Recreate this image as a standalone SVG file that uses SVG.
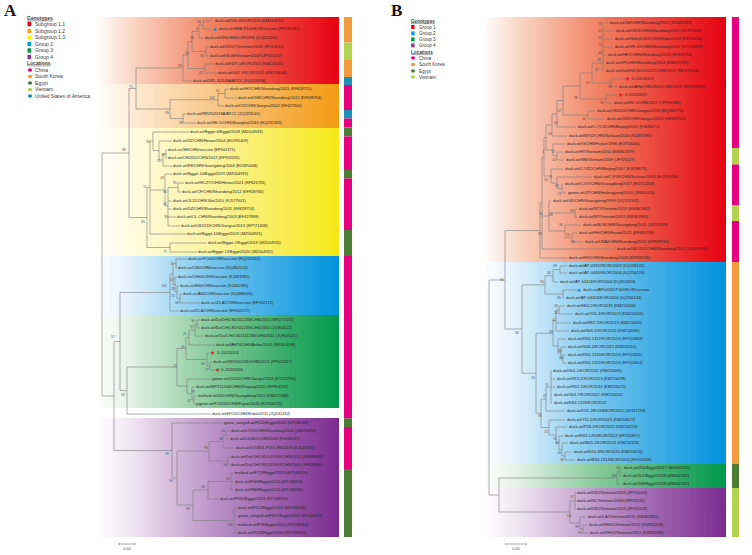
<svg xmlns="http://www.w3.org/2000/svg" width="752" height="555" viewBox="0 0 752 555">
<style>
.lf{font-family:"Liberation Sans",Arial,sans-serif;font-size:4px;fill:#262626}
.bs{font-family:"Liberation Sans",Arial,sans-serif;font-size:3px;fill:#4a4a4a;text-anchor:middle}
.lg{font-family:"Liberation Sans",Arial,sans-serif;font-size:5px;fill:#3a3a3a}
.lgb{font-family:"Liberation Sans",Arial,sans-serif;font-size:4.6px;fill:#3a3a3a}
.lh{font-weight:bold;text-decoration:underline}
.br{fill:none;stroke:#7a7a7a;stroke-width:0.6}
.pl{font-family:"Liberation Serif","Times New Roman",serif;font-size:17px;font-weight:bold;fill:#111}
.sc{fill:none;stroke:#555;stroke-width:0.5}
.cn{fill:#e4007f}.kr{fill:#f39a3c}.eg{fill:#4d7c34}.vn{fill:#b3d34f}.us{fill:#1e8fb5}
</style>
<defs>
<linearGradient id="gR"><stop offset="0" stop-color="#fff"/><stop offset="0.15" stop-color="#f9d6c4"/><stop offset="0.5" stop-color="#f07c5c"/><stop offset="1" stop-color="#e60012"/></linearGradient>
<linearGradient id="gO"><stop offset="0" stop-color="#fff"/><stop offset="0.15" stop-color="#fdebd5"/><stop offset="0.5" stop-color="#f8c584"/><stop offset="1" stop-color="#f39c14"/></linearGradient>
<linearGradient id="gY"><stop offset="0" stop-color="#fff"/><stop offset="0.15" stop-color="#fffbe0"/><stop offset="0.5" stop-color="#fbf39a"/><stop offset="1" stop-color="#f5e816"/></linearGradient>
<linearGradient id="gB"><stop offset="0" stop-color="#fff"/><stop offset="0.15" stop-color="#dff0fb"/><stop offset="0.5" stop-color="#70c2ec"/><stop offset="1" stop-color="#0092dd"/></linearGradient>
<linearGradient id="gG"><stop offset="0" stop-color="#fff"/><stop offset="0.15" stop-color="#e2f1e4"/><stop offset="0.5" stop-color="#80c794"/><stop offset="1" stop-color="#00984a"/></linearGradient>
<linearGradient id="gP"><stop offset="0" stop-color="#fff"/><stop offset="0.15" stop-color="#efe4f1"/><stop offset="0.5" stop-color="#b98fc6"/><stop offset="1" stop-color="#7b2c8f"/></linearGradient>
<path id="tri" d="M0,-1.8L2,1.6L-2,1.6Z" fill="#1e8fd6"/>
<path id="star" d="M0,-2.3L0.56,-0.77L2.19,-0.71L0.9,0.29L1.35,1.86L0,0.95L-1.35,1.86L-0.9,0.29L-2.19,-0.71L-0.56,-0.77Z" fill="#e8101c"/>
</defs>
<rect width="752" height="555" fill="#fff"/>

<g id="bands-a">
<rect x="96" y="17" width="243" height="67" fill="url(#gR)"/>
<rect x="96" y="84" width="243" height="44" fill="url(#gO)"/>
<rect x="96" y="128" width="243" height="128" fill="url(#gY)"/>
<rect x="96" y="256" width="243" height="59" fill="url(#gB)"/>
<rect x="96" y="315" width="243" height="93" fill="url(#gG)"/>
<rect x="96" y="418" width="243" height="119" fill="url(#gP)"/>
</g>
<g id="bands-b">
<rect x="483" y="17" width="243" height="245" fill="url(#gR)"/>
<rect x="483" y="262" width="243" height="202" fill="url(#gB)"/>
<rect x="483" y="464" width="243" height="24" fill="url(#gG)"/>
<rect x="483" y="488" width="243" height="49" fill="url(#gP)"/>
</g>

<g id="locbar-a">
<rect class="kr" x="344" y="17" width="8" height="25.5"/>
<rect class="vn" x="344" y="42.5" width="8" height="17.5"/>
<rect class="kr" x="344" y="60" width="8" height="17"/>
<rect class="us" x="344" y="77" width="8" height="8"/>
<rect class="cn" x="344" y="85" width="8" height="25"/>
<rect class="us" x="344" y="110" width="8" height="8.5"/>
<rect class="cn" x="344" y="118.5" width="8" height="9"/>
<rect class="eg" x="344" y="127.5" width="8" height="9"/>
<rect class="cn" x="344" y="136.5" width="8" height="33.5"/>
<rect class="eg" x="344" y="170" width="8" height="8.5"/>
<rect class="cn" x="344" y="178.5" width="8" height="51.5"/>
<rect class="eg" x="344" y="230" width="8" height="26"/>
<rect class="cn" x="344" y="256" width="8" height="162.5"/>
<rect class="eg" x="344" y="418.5" width="8" height="8.5"/>
<rect class="cn" x="344" y="427" width="8" height="42"/>
<rect class="eg" x="344" y="469" width="8" height="68"/>
</g>
<g id="locbar-b">
<rect class="cn" x="732" y="17" width="7" height="131"/>
<rect class="vn" x="732" y="148" width="7" height="16.5"/>
<rect class="cn" x="732" y="164.5" width="7" height="40.5"/>
<rect class="vn" x="732" y="205" width="7" height="16"/>
<rect class="cn" x="732" y="221" width="7" height="41"/>
<rect class="kr" x="732" y="262" width="7" height="202"/>
<rect class="eg" x="732" y="464" width="7" height="24"/>
<rect class="vn" x="732" y="488" width="7" height="49"/>
</g>

<g id="title-a"><text class="pl" x="4" y="16">A</text></g>
<g id="title-b"><text class="pl" x="391" y="16">B</text></g>

<g id="legend-a">
<text class="lg lh" x="27" y="19.7">Genotypes</text>
<rect x="27.5" y="21.8" width="3.6" height="4.4" fill="#e60012"/><text class="lg" x="35" y="25.8">Subgroup 1.1</text>
<rect x="27.5" y="28.8" width="3.6" height="4.4" fill="#f39c14"/><text class="lg" x="35" y="32.8">Subgroup 1.2</text>
<rect x="27.5" y="35.3" width="3.6" height="4.4" fill="#fff100"/><text class="lg" x="35" y="39.3">Subgroup 1.3</text>
<rect x="27.5" y="41.8" width="3.6" height="4.4" fill="#00a0e9"/><text class="lg" x="35" y="45.8">Group 2</text>
<rect x="27.5" y="48.3" width="3.6" height="4.4" fill="#009944"/><text class="lg" x="35" y="52.3">Group 3</text>
<rect x="27.5" y="54.8" width="3.6" height="4.4" fill="#7d3a96"/><text class="lg" x="35" y="58.8">Group 4</text>
<text class="lg lh" x="27" y="64.7">Locations</text>
<ellipse class="cn" cx="30" cy="70" rx="2.2" ry="1.8"/><text class="lg" x="35" y="71.8">China</text>
<ellipse class="kr" cx="30" cy="76.5" rx="2.2" ry="1.8"/><text class="lg" x="35" y="78.3">South Korea</text>
<ellipse class="eg" cx="30" cy="83" rx="2.2" ry="1.8"/><text class="lg" x="35" y="84.8">Egypt</text>
<ellipse class="vn" cx="30" cy="89.5" rx="2.2" ry="1.8"/><text class="lg" x="35" y="91.3">Vietnam</text>
<ellipse class="us" cx="30" cy="96" rx="2.2" ry="1.8"/><text class="lg" x="35" y="97.8">United States of America</text>
</g>
<g id="legend-b">
<text class="lgb lh" x="411" y="22.6">Genotypes</text>
<rect x="411.2" y="25" width="3.4" height="4" fill="#e60012"/><text class="lgb" x="419" y="28.6">Group 1</text>
<rect x="411.2" y="31.4" width="3.4" height="4" fill="#00a0e9"/><text class="lgb" x="419" y="35.1">Group 2</text>
<rect x="411.2" y="37.4" width="3.4" height="4" fill="#009944"/><text class="lgb" x="419" y="41.1">Group 3</text>
<rect x="411.2" y="43.4" width="3.4" height="4" fill="#7d3a96"/><text class="lgb" x="419" y="47.1">Group 4</text>
<text class="lgb lh" x="411" y="53.6">Locations</text>
<ellipse class="cn" cx="413" cy="58" rx="2" ry="1.7"/><text class="lgb" x="419" y="59.6">China</text>
<ellipse class="kr" cx="413" cy="64.5" rx="2" ry="1.7"/><text class="lgb" x="419" y="66.1">South Korea</text>
<ellipse class="eg" cx="413" cy="71" rx="2" ry="1.7"/><text class="lgb" x="419" y="72.6">Egypt</text>
<ellipse class="vn" cx="413" cy="77" rx="2" ry="1.7"/><text class="lgb" x="419" y="78.6">Vietnam</text>
</g>

<g id="connectors">
<path class="br" d="M203,21V29M203,21H213M203,29H212M199,25V38M199,25H203M199,38H204M206,47V56M206,47H209M206,56H209M192,31.5V51.5M192,31.5H199M192,51.5H206M205,64V73M205,64H214M205,73H217M188,41.5V68.5M188,41.5H192M188,68.5H205M183,55V81M183,55H188M183,81H192M225,89V98M225,89H229M225,98H237M218,93.5V106M218,93.5H225M218,106H224M183,114V123M183,114H186M183,123H196M170,99.75V118.5M170,99.75H218M170,118.5H183M136,68V109M136,68H183M136,109H170M129,88.5V217.5M129,88.5H136M129,217.5H147"/>
<path class="br" d="M166,150V158M166,150H167M166,158H167M163,154V166M163,154H166M163,166H172M159,141V160M159,141H172M159,160H163M153,132V150.5M153,132H189M153,150.5H159M178,183V192M178,183H184M178,192H181M168,187.5V226M168,187.5H178M168,201H172M168,209H172M168,217H176M168,226H180M165,174V206M165,174H172M165,206H168M150,141V234M150,141H153M150,190H165M150,234H186M170,243V252M170,243H207M170,252H197M147,187.5V247.5M147,187.5H150M147,247.5H170"/>
<path class="br" d="M176,259V268M176,259H187M176,268H177M180,294V303M180,294H182M180,303H200M177,286V298.5M177,286H179M177,298.5H180M175,277V292M175,277H177M175,292H177M173,263.5V284.5M173,263.5H176M173,284.5H175M170,274V311M170,274H173M170,311H179"/>
<path class="br" d="M197,320V328M197,320H200M197,328H200M195,324V336M195,324H197M195,336H204M189,330V345M189,330H195M189,345H215M210,362V370M210,362H212M210,370H215M207,353V366M207,353H210M207,366H210M186,337.5V359.5M186,337.5H189M186,359.5H207M194,396V404M194,396H197M194,404H195M192,387V400M192,387H195M192,400H194M187,379V393.5M187,379H211M187,393.5H192M177,348.5V386M177,348.5H186M177,386H187"/>
<path class="br" d="M127,367V414M127,367H177M127,414H211M120,292.5V390.5M120,292.5H170M120,390.5H127M114,341.5V450.5M114,341.5H120M114,450.5H172M102,153V396M102,153H129M102,396H114"/>
<path class="br" d="M226,431V439M226,431H230M226,439H229M223,435V448M223,435H226M223,448H235M228,457V465M228,457H230M228,465H230M209,441.5V461M209,441.5H223M209,461H228M231,473V490M231,473H234M231,482H234M231,490H234M208,481.5V499M208,481.5H231M208,499H219M234,508V533M234,508H237M234,516H237M234,525H237M234,533H237M193,490V520.5M193,490H208M193,520.5H234M177,451V505M177,451H209M177,505H193M172,423V478M172,423H223M172,478H177"/>
<path class="br" d="M603,23V71M603,23H608M603,31H614M603,39H613M603,47H613M603,55H606M603,63H604M603,71H604M611,79V87M611,79H625M611,87H617M592,63V83M592,63H603M592,83H611M606,95V103M606,95H618M606,103H612M580,73V99M580,73H592M580,99H606M588,111V119M588,111H595M588,119H605M563,86V115M563,86H580M563,115H588M557,100.5V127M557,100.5H563M557,127H576M552,114V136M552,114H557M552,136H567M557,152V160M557,152H563M557,160H564M553,144V156M553,144H565M553,156H557M546,125V150M546,125H552M546,150H553M562,184V193M562,184H563M562,193H566M557,177V188.5M557,177H592M557,188.5H562M551,169V183M551,169H563M551,183H557M544,137.5V176M544,137.5H546M544,176H551M575,209V217M575,209H577M575,217H577M572,233V242M572,233H577M572,242H583M565,225V237.5M565,225H581M565,237.5H572M549,201V231M549,201H551M549,213H575M549,231H565M542,157V249M542,157H544M542,216H549M542,249H615M540,203V258M540,203H542M540,258H567M505,230.5V329M505,230.5H540M505,329H522M489,280V495M489,280H505M489,495H499"/>
<path class="br" d="M560,266V273M560,266H567M560,273H567M553,269.5V282M553,269.5H560M553,282H558M563,290V298M563,290H577M563,298H564M545,275.75V294M545,275.75H553M545,294H563M559,306V314M559,306H565M559,314H573M556,310V331M556,310H559M556,323H571M556,331H569M563,355V363M563,355H566M563,363H566M561,347V359M561,347H566M561,359H563M558,339V353M558,339H566M558,353H561M553,320.5V346M553,320.5H556M553,346H558M551,371V403M551,371H552M551,379H555M551,387H555M551,395H552M551,403H552M546,387V411M546,387H551M546,411H565M565,452V460M565,452H572M565,460H575M562,443V456M562,443H568M562,456H565M559,436V449.5M559,436H563M559,449.5H562M556,427V443M556,427H567M556,443H559M549,420V435M549,420H565M549,435H556M541,399V427.5M541,399H546M541,427.5H549M536,333.25V413.25M536,333.25H553M536,413.25H541M522,284.9V373.25M522,284.9H545M522,373.25H536"/>
<path class="br" d="M620,468V476M620,468H622M620,476H621M617,472V484M617,472H620M617,484H621M499,478V512M499,478H617M499,512H570M575,493V509M575,493H576M575,501H576M575,509H576M583,525V533M583,525H587M583,533H588M580,517V529M580,517H586M580,529H583M570,501V523M570,501H575M570,523H580"/>
</g>

<g id="bootstrap-a">
<text class="bs" x="199" y="23">56</text><text class="bs" x="197" y="30">8</text><text class="bs" x="192" y="39">18</text><text class="bs" x="187" y="54">53</text><text class="bs" x="202" y="57">84</text><text class="bs" x="180" y="67">99</text><text class="bs" x="201" y="74">41</text><text class="bs" x="131" y="88">71</text>
<text class="bs" x="218" y="92">67</text><text class="bs" x="212" y="99">100</text><text class="bs" x="167" y="114">99</text><text class="bs" x="181" y="124">99</text>
<text class="bs" x="148" y="143">34</text><text class="bs" x="163" y="156">58</text><text class="bs" x="159" y="162">51</text><text class="bs" x="162" y="179">43</text><text class="bs" x="175" y="184">85</text><text class="bs" x="145" y="188">15</text><text class="bs" x="165" y="193">66</text><text class="bs" x="165" y="205">40</text><text class="bs" x="166" y="218">39</text><text class="bs" x="143" y="223">69</text><text class="bs" x="165" y="253">72</text><text class="bs" x="124" y="151">86</text>
<text class="bs" x="172" y="265">71</text><text class="bs" x="172" y="281">57</text><text class="bs" x="164" y="287">100</text><text class="bs" x="173" y="290">18</text><text class="bs" x="173" y="297">74</text><text class="bs" x="177" y="304">68</text>
<text class="bs" x="193" y="322">96</text><text class="bs" x="192" y="328">97</text><text class="bs" x="185" y="335">25</text><text class="bs" x="183" y="348">41</text><text class="bs" x="203" y="365">99</text><text class="bs" x="207" y="371">77</text><text class="bs" x="175" y="367">55</text><text class="bs" x="193" y="393">79</text><text class="bs" x="189" y="402">62</text><text class="bs" x="113" y="338">57</text><text class="bs" x="123" y="396">58</text>
<text class="bs" x="167" y="455">99</text><text class="bs" x="223" y="432">70</text><text class="bs" x="221" y="440">99</text><text class="bs" x="206" y="449">98</text><text class="bs" x="225" y="466">99</text><text class="bs" x="228" y="480">99</text><text class="bs" x="203" y="488">94</text><text class="bs" x="171" y="482">93</text><text class="bs" x="188" y="510">99</text><text class="bs" x="230" y="526">100</text>
</g>
<g id="bootstrap-b">
<text class="bs" x="600" y="25">56</text><text class="bs" x="600" y="32">42</text><text class="bs" x="600" y="39">52</text><text class="bs" x="600" y="46">13</text><text class="bs" x="600" y="54">46</text><text class="bs" x="599" y="61">38</text><text class="bs" x="597" y="71">67</text><text class="bs" x="610" y="88">94</text><text class="bs" x="588" y="84">85</text><text class="bs" x="602" y="104">96</text><text class="bs" x="576" y="99">98</text><text class="bs" x="584" y="120">94</text><text class="bs" x="559" y="112">57</text><text class="bs" x="556" y="124">92</text><text class="bs" x="550" y="135">29</text><text class="bs" x="543" y="153">4</text><text class="bs" x="553" y="153">17</text><text class="bs" x="554" y="161">44</text><text class="bs" x="546" y="181">53</text><text class="bs" x="551" y="178">8</text><text class="bs" x="557" y="187">92</text><text class="bs" x="559" y="195">73</text><text class="bs" x="541" y="215">65</text><text class="bs" x="551" y="216">68</text><text class="bs" x="572" y="212">99</text><text class="bs" x="561" y="226">96</text><text class="bs" x="568" y="236">50</text><text class="bs" x="573" y="243">96</text><text class="bs" x="540" y="235">99</text>
<text class="bs" x="555" y="267">99</text><text class="bs" x="549" y="274">84</text><text class="bs" x="542" y="283">95</text><text class="bs" x="559" y="299">99</text><text class="bs" x="556" y="307">29</text><text class="bs" x="556" y="314">24</text><text class="bs" x="554" y="321">42</text><text class="bs" x="551" y="333">99</text><text class="bs" x="560" y="352">85</text><text class="bs" x="561" y="359">68</text><text class="bs" x="547" y="386">91</text><text class="bs" x="545" y="397">67</text><text class="bs" x="533" y="379">93</text><text class="bs" x="540" y="417">90</text><text class="bs" x="546" y="433">54</text><text class="bs" x="555" y="440">55</text><text class="bs" x="557" y="444">44</text><text class="bs" x="559" y="454">43</text><text class="bs" x="562" y="461">96</text>
<text class="bs" x="502" y="281">90</text><text class="bs" x="517" y="334">98</text><text class="bs" x="618" y="469">99</text><text class="bs" x="614" y="477">100</text>
<text class="bs" x="572" y="498">67</text><text class="bs" x="569" y="517">100</text><text class="bs" x="577" y="528">99</text><text class="bs" x="580" y="534">99</text>
</g>

<g id="leaves-a">
<g id="a1"><text class="lf" x="215" y="22.4">duck-wt/D10-4/KOR/2013 (KM216021)</text></g>
<g id="a2"><use href="#tri" x="215" y="29"/><text class="lf" x="219" y="30.4">duck-vs/HSB-P100/KOR/vaccine (PP592387)</text></g>
<g id="a3"><text class="lf" x="205" y="39.4">duck-wt/DHV-HS/KOR/1996 (DQ812094)</text></g>
<g id="a4"><text class="lf" x="210" y="48.4">duck-wt/VXX/T/Vietnam/2008 (JF914046)</text></g>
<g id="a5"><text class="lf" x="210" y="57.4">duck-wt/GL08/Vietnam/2008 (JF920132)</text></g>
<g id="a6"><text class="lf" x="215" y="65.4">duck-wt/G27-1/KOR/2013 (KM216041)</text></g>
<g id="a7"><text class="lf" x="218" y="74.4">duck-wt/G27-4/KOR/2013 (KM216044)</text></g>
<g id="a8"><text class="lf" x="193" y="82.4">duck-wt/DRL-62/USA/ATCC (DQ219096)</text></g>
<g id="a9"><text class="lf" x="230" y="90.4">duck-wt/HY/CHN/Shandong/2011 (KF828755)</text></g>
<g id="a10"><text class="lf" x="238" y="99.4">duck-wt/LN8/CHN/Shandong/2012 (KF828764)</text></g>
<g id="a11"><text class="lf" x="225" y="107.4">duck-wt/YZ/CHN/Jiangsu/2002 (EF427900)</text></g>
<g id="a12"><text class="lf" x="187" y="115.4">duck-wt/R85952/USA/ATCC (DQ226541)</text></g>
<g id="a13"><text class="lf" x="197" y="124.4">duck-wt/SH-1/CHN/Shanghai/2010 (HQ232305)</text></g>
<g id="a14"><text class="lf" x="190" y="133.4">duck-wt/Egypt-4/Egypt/2018 (MZ004923)</text></g>
<g id="a15"><text class="lf" x="173" y="142.4">duck-wt/ZZ/CHN/Henan/2004 (EU395409)</text></g>
<g id="a16"><text class="lf" x="168" y="151.4">duck-vs/SH/CHN/vaccine (EF502171)</text></g>
<g id="a17"><text class="lf" x="168" y="159.4">duck-wt/CH2012/CHN/2012 (KF953535)</text></g>
<g id="a18"><text class="lf" x="173" y="167.4">duck-wt/FS/CHN/Guangdong/2004 (EU395408)</text></g>
<g id="a19"><text class="lf" x="173" y="175.4">duck-wt/Egypt-14/Egypt/2019 (MZ004919)</text></g>
<g id="a20"><text class="lf" x="185" y="184.4">duck-wt/HCZY/CHN/Henan/2021 (KF826781)</text></g>
<g id="a21"><text class="lf" x="182" y="193.4">duck-wt/CF/CHN/Shandong/2012 (KF828760)</text></g>
<g id="a22"><text class="lf" x="173" y="202.4">duck-wt/JL11/CHN/Jilin/2010 (KJ577601)</text></g>
<g id="a23"><text class="lf" x="173" y="210.4">duck-wt/DZ/CHN/Shandong/2011 (KF828754)</text></g>
<g id="a24"><text class="lf" x="177" y="218.4">duck-wt/CL-CHN/Shandong/2003 (EF427898)</text></g>
<g id="a25"><text class="lf" x="181" y="227.4">duck-wt/US2013/CHN/Jiangsu/2013 (KP721458)</text></g>
<g id="a26"><text class="lf" x="187" y="235.4">duck-wt/Egypt-10/Egypt/2019 (MZ004921)</text></g>
<g id="a27"><text class="lf" x="208" y="244.4">duck-wt/Egypt-2/Egypt/2019 (MZ004920)</text></g>
<g id="a28"><text class="lf" x="198" y="253.4">duck-wt/Egypt-13/Egypt/2020 (MZ004922)</text></g>
<g id="a29"><text class="lf" x="188" y="260.4">duck-vs/FC64/CHN/vaccine (HQ232302)</text></g>
<g id="a30"><text class="lf" x="178" y="269.4">duck-vs/C80/CHN/vaccine (DQ864514)</text></g>
<g id="a31"><text class="lf" x="178" y="278.4">duck-vs/CH60/CHN/vaccine (KJ461981)</text></g>
<g id="a32"><text class="lf" x="180" y="287.4">duck-vs/E60/CHN/vaccine (KJ461985)</text></g>
<g id="a33"><text class="lf" x="183" y="295.4">duck-vs/A66/CHN/vaccine (DQ886445)</text></g>
<g id="a34"><text class="lf" x="201" y="304.4">duck-vs/ZJ-A2/CHN/vaccine (EF502172)</text></g>
<g id="a35"><text class="lf" x="180" y="312.4">duck-vs/ZJ-A/CHN/vaccine (EF442072)</text></g>
<g id="a36"><text class="lf" x="201" y="321.4">duck-wt/Du/DH/LSD/111238/CHN/2011 (MK371521)</text></g>
<g id="a37"><text class="lf" x="201" y="329.4">duck-wt/Du/CH/LSD/111239/CHN/2011 (JQ804522)</text></g>
<g id="a38"><text class="lf" x="205" y="337.4">duck-wt/Du/CH/LGD/111238/CHN/2011 (JQ804521)</text></g>
<g id="a39"><text class="lf" x="216" y="346.4">duck-wt/AHT6/CHN/Anhui/2019 (MK800098)</text></g>
<g id="a40"><use href="#star" x="212.5" y="353"/><text class="lf" x="217" y="354.4">D-20220155</text></g>
<g id="a41"><text class="lf" x="213" y="363.4">duck-wt/SRXX01/SD/CHN/2021 (PP012257)</text></g>
<g id="a42"><use href="#star" x="217.5" y="370"/><text class="lf" x="221" y="371.4">D-20220905</text></g>
<g id="a43"><text class="lf" x="212" y="380.4">goose-wt/J1405/CHN/Jiangxi/2014 (KT072750)</text></g>
<g id="a44"><text class="lf" x="196" y="388.4">duck-wt/MPZJ1206/CHN/Zhejiang/2011 (KF804502)</text></g>
<g id="a45"><text class="lf" x="198" y="397.4">mallard-wt/GD/CHN/Guangdong/2012 (KM017068)</text></g>
<g id="a46"><text class="lf" x="196" y="405.4">pigeon-wt/FJ1220/CHN/Fujian/2012 (KC904272)</text></g>
<g id="a47"><text class="lf" x="212" y="415.4">duck-wt/HY02/CHN/Hubei/2011 (JQ031262)</text></g>
<g id="a48"><text class="lf" x="224" y="424.4">green_winged-wt/F215/Egypt/2014 (KP148268)</text></g>
<g id="a49"><text class="lf" x="231" y="432.4">duck-wt/LY01/CHN/Shandong/2011 (JN225459)</text></g>
<g id="a50"><text class="lf" x="230" y="440.4">duck-wt/L10801/CHN/2008 (FJ436047)</text></g>
<g id="a51"><text class="lf" x="236" y="449.4">duck-wt/LY0801-P15/CHN/2013 (KJ524545)</text></g>
<g id="a52"><text class="lf" x="231" y="458.4">duck-wt/Du/CH/LSD/101006/CHN/2010 (JF828982)</text></g>
<g id="a53"><text class="lf" x="231" y="466.4">duck-wt/Du/CH/LSD/101003/CHN/2009 (JF828980)</text></g>
<g id="a54"><text class="lf" x="235" y="474.4">mallard-wt/F729/Egypt/2013 (KP148250)</text></g>
<g id="a55"><text class="lf" x="235" y="483.4">duck-wt/F163/Egypt/2013 (KP148201)</text></g>
<g id="a56"><text class="lf" x="235" y="491.4">duck-wt/F868/Egypt/2013 (KP148260)</text></g>
<g id="a57"><text class="lf" x="220" y="500.4">duck-wt/F355/Egypt/2014 (KP148294)</text></g>
<g id="a58"><text class="lf" x="238" y="509.4">duck-wt/F112/Egypt/2014 (KP148266)</text></g>
<g id="a59"><text class="lf" x="238" y="517.4">green_winged-wt/F829/Egypt/2013 (KP148303)</text></g>
<g id="a60"><text class="lf" x="238" y="526.4">mallard-wt/F18/Egypt/2014 (KP148264)</text></g>
<g id="a61"><text class="lf" x="238" y="534.4">duck-wt/F243/Egypt/2014 (KP148265)</text></g>
</g>

<g id="leaves-b">
<g id="b1"><text class="lf" x="610" y="24.4">duck-wt/JM/CHN/Shandong/2012 (KF828763)</text></g>
<g id="b2"><text class="lf" x="616" y="32.4">duck-wt/LW-8/CHN/Shandong/2012 (KC191666)</text></g>
<g id="b3"><text class="lf" x="615" y="40.4">duck-wt/Hubei1302/CHN/Hubei/2013 (KJ744250)</text></g>
<g id="b4"><text class="lf" x="615" y="48.4">duck-wt/VF-19/CHN/Shandong/2012 (KC191683)</text></g>
<g id="b5"><text class="lf" x="608" y="56.4">duck-wt/HKY/CHN/Shandong/2011 (KF828756)</text></g>
<g id="b6"><text class="lf" x="606" y="64.4">duck-wt/ZP/CHN/Shandong/2014 (KM507028)</text></g>
<g id="b7"><text class="lf" x="606" y="72.4">duck-wt/Du/DH/LSD/120225/CHN/2012 (MK371024)</text></g>
<g id="b8"><use href="#star" x="627.5" y="79"/><text class="lf" x="632" y="80.4">D-20210113</text></g>
<g id="b9"><text class="lf" x="619" y="88.4">duck-wt/AHb/CHN/JS01/CHN/2019 (MK863959)</text></g>
<g id="b10"><use href="#star" x="620.5" y="95"/><text class="lf" x="625" y="96.4">D-20220815</text></g>
<g id="b11"><text class="lf" x="614" y="104.4">duck-wt/HZ-1/CHN/2022 (OP976384)</text></g>
<g id="b12"><text class="lf" x="597" y="112.4">duck-wt/JS2010/CHN/Jiangsu/2010 (HQ584774)</text></g>
<g id="b13"><text class="lf" x="607" y="120.4">duck-wt/JS2/CHN/Jiangsu/2012 (KF828762)</text></g>
<g id="b14"><text class="lf" x="578" y="128.4">duck-wt/C-YCZ/CHN/Beijing/2005 (FJ828672)</text></g>
<g id="b15"><text class="lf" x="569" y="137.4">duck-wt/MY02/CHN/Sichuan/2000 (KJ461985)</text></g>
<g id="b16"><text class="lf" x="567" y="145.4">duck-wt/G/CHN/Fujian/1998 (EU753006)</text></g>
<g id="b18"><text class="lf" x="565" y="153.4">duck-wt/HY/Vietnam/2010 (KM361879)</text></g>
<g id="b19"><text class="lf" x="566" y="161.4">duck-wt/988/Vietnam/2009 (JF925119)</text></g>
<g id="b20"><text class="lf" x="565" y="170.4">duck-wt/C-YZC/CHN/Beijing/2007 (FJ828673)</text></g>
<g id="b21"><text class="lf" x="594" y="178.4">duck-wt/C-FJK/CHN/Sichuan/2009 (KC993430)</text></g>
<g id="b22"><text class="lf" x="565" y="185.4">duck-wt/C-GY/CHN/Guangdong/2007 (EU352203)</text></g>
<g id="b23"><text class="lf" x="568" y="194.4">goose-wt/JT/CHN/Heilongjiang/2010 (JF835025)</text></g>
<g id="b24"><text class="lf" x="553" y="202.4">duck-wt/GD/CHN/Guangdong/1999 (DQ122332)</text></g>
<g id="b25"><text class="lf" x="579" y="210.4">duck-wt/NT2/Vietnam/2013 (KM361882)</text></g>
<g id="b26"><text class="lf" x="579" y="218.4">duck-wt/NT/Vietnam/2013 (KM361883)</text></g>
<g id="b27"><text class="lf" x="583" y="226.4">duck-wt/B-N/CHN/Guangdong/2011 (JX235698)</text></g>
<g id="b28"><text class="lf" x="579" y="234.4">duck-wt/FH/CHN/Henan/2011 (KF826758)</text></g>
<g id="b29"><text class="lf" x="585" y="243.4">duck-wt/JNA/CHN/Shandong/2013 (KF828765)</text></g>
<g id="b30"><text class="lf" x="617" y="250.4">duck-wt/SD1101/CHN/Shandong/2011 (JQ409536)</text></g>
<g id="b31"><text class="lf" x="569" y="259.4">duck-wt/FX/CHN/Shandong/2008 (KF828745)</text></g>
<g id="b32"><text class="lf" x="569" y="267.4">duck-wt/AP-03337/KOR/2003 (DQ256132)</text></g>
<g id="b33"><text class="lf" x="569" y="274.4">duck-wt/AP-04009/KOR/2004 (DQ256133)</text></g>
<g id="b34"><text class="lf" x="560" y="283.4">duck-wt/AP-04114/KOR/2004 (DQ812093)</text></g>
<g id="b35"><use href="#tri" x="579" y="290"/><text class="lf" x="583" y="291.4">duck-vs/AP04203 P100/KOR/vaccine</text></g>
<g id="b36"><text class="lf" x="566" y="299.4">duck-wt/AP-04203/KOR/2004 (DQ256134)</text></g>
<g id="b37"><text class="lf" x="567" y="307.4">duck-wt/H04-2/KOR/2013 (KM216050)</text></g>
<g id="b38"><text class="lf" x="575" y="315.4">duck-wt/Y05-3/KOR/2013 (KM216055)</text></g>
<g id="b39"><text class="lf" x="573" y="324.4">duck-wt/M07-1/KOR/2013 (KM216063)</text></g>
<g id="b40"><text class="lf" x="571" y="332.4">duck-wt/S09-2/KOR/2013 (KM216066)</text></g>
<g id="b41"><text class="lf" x="568" y="340.4">duck-wt/KS3-1317/KOR/2013 (KF555808)</text></g>
<g id="b42"><text class="lf" x="568" y="348.4">duck-wt/G26-2/KOR/2013 (KM216110)</text></g>
<g id="b43"><text class="lf" x="568" y="356.4">duck-wt/KS3-1316/KOR/2013 (KF555811)</text></g>
<g id="b44"><text class="lf" x="568" y="364.4">duck-wt/KS3-1322/KOR/2013 (KF555814)</text></g>
<g id="b45"><text class="lf" x="553" y="372.4">duck-wt/G01-1/KOR/2012 (KM216045)</text></g>
<g id="b46"><text class="lf" x="557" y="380.4">duck-wt/S13-2/KOR/2013 (KM216078)</text></g>
<g id="b47"><text class="lf" x="557" y="388.4">duck-wt/N12-1/KOR/2013 (KM216075)</text></g>
<g id="b48"><text class="lf" x="554" y="396.4">duck-wt/G01-7/KOR/2012 (KM216051)</text></g>
<g id="b49"><text class="lf" x="554" y="404.4">duck-wt/KS3-1226/KOR/2012</text></g>
<g id="b50"><text class="lf" x="567" y="412.4">duck-wt/D11-JW-01B/KOR/2011 (JX312194)</text></g>
<g id="b51"><text class="lf" x="567" y="421.4">duck-wt/Y11-1/KOR/2013 (KM216072)</text></g>
<g id="b52"><text class="lf" x="569" y="428.4">duck-wt/P28-3/KOR/2013 (KM216124)</text></g>
<g id="b53"><text class="lf" x="565" y="437.4">duck-wt/KS3-1263/KOR/2012 (KF555897)</text></g>
<g id="b54"><text class="lf" x="570" y="444.4">duck-wt/M05-2/KOR/2013 (KM216128)</text></g>
<g id="b55"><text class="lf" x="574" y="453.4">duck-wt/D10-3/KOR/2013 (KM216070)</text></g>
<g id="b56"><text class="lf" x="577" y="461.4">duck-wt/KS3-1313/KOR/2013 (KF555906)</text></g>
<g id="b57"><text class="lf" x="624" y="469.4">duck-wt/256/Egypt/2017 (MK062180)</text></g>
<g id="b58"><text class="lf" x="623" y="477.4">duck-wt/101/Egypt/2018 (MK062182)</text></g>
<g id="b59"><text class="lf" x="623" y="485.4">duck-wt/108/Egypt/2018 (MK062181)</text></g>
<g id="b60"><text class="lf" x="577" y="494.4">duck-wt/DN2/Vietnam/2009 (JF914044)</text></g>
<g id="b61"><text class="lf" x="577" y="502.4">duck-wt/NC/Vietnam/2009 (JF920121)</text></g>
<g id="b62"><text class="lf" x="577" y="510.4">duck-wt/DN1/Vietnam/2009 (JF920120)</text></g>
<g id="b63"><text class="lf" x="588" y="518.4">duck-wt/LA1/Vietnam/2011 (KM361881)</text></g>
<g id="b64"><text class="lf" x="589" y="526.4">duck-wt/KHD1/Vietnam/2012 (KM361878)</text></g>
<g id="b65"><text class="lf" x="590" y="534.4">duck-wt/KHD2/Vietnam/2012 (KM361880)</text></g>
</g>

<g id="scale-a"><path class="sc" d="M119,544H135M119,542.8V545.2M135,542.8V545.2"/><text class="bs" x="127" y="550">0.050</text></g>
<g id="scale-b"><path class="sc" d="M506,544H526M506,542.8V545.2M526,542.8V545.2"/><text class="bs" x="516" y="550">0.010</text></g>
</svg>
